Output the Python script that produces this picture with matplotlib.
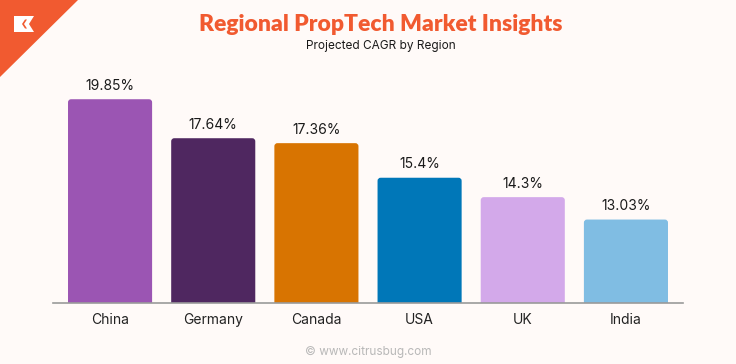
import matplotlib
matplotlib.use("Agg")
import matplotlib.pyplot as plt
from matplotlib.patches import Polygon, FancyBboxPatch

# data
regions = ["China", "Germany", "Canada", "USA", "UK", "India"]
cagr = [19.85, 17.64, 17.36, 15.4, 14.3, 13.03]
labels = ["19.85%", "17.64%", "17.36%", "15.4%", "14.3%", "13.03%"]
colors = ["#9B55B3", "#4F2760", "#D87401", "#0077B8", "#D3A9EA", "#80BDE3"]

BG = "#FFFAF8"
ORANGE = "#F15A30"

fig = plt.figure(figsize=(7.36, 3.64), dpi=100, facecolor=BG)
ax = fig.add_axes([53 / 736, 61 / 364, 630 / 736, 223 / 364], facecolor=BG)

x = range(len(regions))
bars = ax.bar(x, cagr, width=0.815, color=colors, bottom=0)
ax.set_xlim(-0.553, len(regions) - 1 + 0.553)
ax.set_ylim(8.3, 20.94)

# swap the square bars for ones with slightly rounded tops
for b in bars:
    b.set_visible(False)
    ax.add_patch(FancyBboxPatch((b.get_x(), b.get_y()), b.get_width(), b.get_height(),
                                boxstyle="round,pad=0,rounding_size=0.03",
                                mutation_aspect=5.8, facecolor=b.get_facecolor(),
                                edgecolor="none", zorder=2))

for b, lab in zip(bars, labels):
    ax.annotate(lab, (b.get_x() + b.get_width() / 2, b.get_height()),
                xytext=(0, 4.5), textcoords="offset points",
                ha="center", va="bottom", fontsize=10, family="Inter",
                color="#1a1a1a")

ax.set_xticks(list(x))
ax.set_xticklabels(regions, fontsize=10, family="Inter", color="#222222")
ax.tick_params(axis="x", length=0, pad=7)
ax.set_yticks([])
for s in ["top", "right", "left"]:
    ax.spines[s].set_visible(False)
ax.spines["bottom"].set_color("#9a9a9a")
ax.spines["bottom"].set_linewidth(1.2)
ax.spines["bottom"].set_zorder(3)

fig.text(0.517, 0.934, "Regional PropTech Market Insights", ha="center", va="center",
         fontsize=16.5, fontweight="heavy", family="Lato", color=ORANGE)
fig.text(0.517, 0.873, "Projected CAGR by Region", ha="center", va="center",
         fontsize=8.5, family="Inter", color="#1a1a1a")
fig.text(0.5, 0.033, "\u00a9 www.citrusbug.com", ha="center", va="center",
         fontsize=8.5, family="Inter", color="#b8b8b8")

# corner logo
def px(pts):
    return [[u / 736, 1 - v / 364] for u, v in pts]

fig.patches.append(Polygon(px([(0, 0), (78, 0), (0, 77)]), closed=True,
                           transform=fig.transFigure, facecolor=ORANGE, edgecolor="none"))
fig.patches.append(Polygon(px([(14, 16), (34, 16), (29, 24), (34, 32), (14, 32)]),
                           closed=True, transform=fig.transFigure, facecolor="white",
                           edgecolor="none"))
fig.patches.append(Polygon(px([(25, 19.5), (27, 19.5), (24, 24), (27, 28.5), (25, 28.5), (22, 24)]),
                           closed=True, transform=fig.transFigure, facecolor=ORANGE,
                           edgecolor="none"))

fig.savefig("out.png", dpi=100, facecolor=BG)
